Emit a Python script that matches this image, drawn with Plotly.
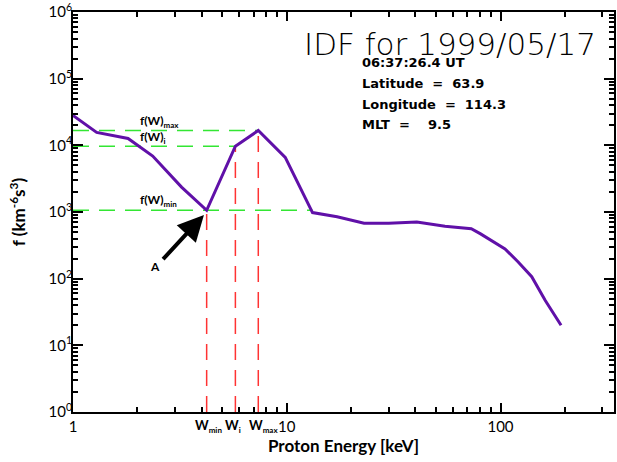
import math
import plotly.graph_objects as go

energy = [1.0, 1.29, 1.81, 2.36, 3.22, 4.22, 5.75, 7.36, 9.84, 13.2, 17.2, 23.0, 30.0, 40.6, 55.0, 73.0, 80.7, 105.0, 121.0, 140.0, 162.0, 192.0]
flux = [28000, 15600, 12700, 6900, 2360, 1060, 9700, 16700, 6600, 980, 850, 680, 680, 710, 610, 560, 470, 280, 178, 107, 47, 20]

w_names = ["W<sub><span style='font-size:8px'>min</span></sub>",
           "W<sub><span style='font-size:8px'>i</span></sub>",
           "W<sub><span style='font-size:8px'>max</span></sub>"]
w_energy = [4.22, 5.75, 7.36]
w_flux = [1060, 9700, 16700]
w_end = [13.2, 5.75, 7.36]
f_labels = ["f(W)<sub><span style='font-size:8px'>min</span></sub>",
            "f(W)<sub><span style='font-size:8px'>i</span></sub>",
            "f(W)<sub><span style='font-size:8px'>max</span></sub>"]

y_ticks = [1, 10, 100, 1000, 10000, 100000, 1000000]
y_ticktext = ["10<sup>%d</sup>" % i for i in range(7)]

info_lines = ["06:37:26.4 UT", "Latitude  =  63.9", "Longitude  =  114.3", "MLT  =    9.5"]

FONT = "Lato"
INFO_FONT = "DejaVu Sans"

fig = go.Figure()

for fe, we in zip(w_flux, w_end):
    fig.add_trace(go.Scatter(x=[1, we], y=[fe, fe], mode="lines",
                             line=dict(color="#33e633", width=1.5, dash="16px,10px"),
                             showlegend=False, hoverinfo="skip"))
for we, fe in zip(w_energy, w_flux):
    fig.add_trace(go.Scatter(x=[we, we], y=[1, fe], mode="lines",
                             line=dict(color="#ff3333", width=1.5, dash="16px,10px"),
                             showlegend=False, hoverinfo="skip"))

fig.add_trace(go.Scatter(x=energy, y=flux, mode="lines",
                         line=dict(color="#6010a8", width=3),
                         showlegend=False))
# invisible trace hosting the y tick-label overlay axis
fig.add_trace(go.Scatter(x=[1], y=[1], xaxis="x", yaxis="y2", mode="markers",
                         marker=dict(opacity=0), showlegend=False, hoverinfo="skip"))

annotations = []
f_label_y = [1500, 13000, 22500]
for t, yy in zip(f_labels, f_label_y):
    annotations.append(dict(x=math.log10(2.02), y=math.log10(yy), xref="x", yref="y", text=t,
                            showarrow=False, xanchor="left", yanchor="middle",
                            font=dict(family=FONT, size=12, color="black", weight="bold")))
w_shift = [2, -2, 5]
for t, we, sh in zip(w_names, w_energy, w_shift):
    annotations.append(dict(x=math.log10(we), y=0, xref="x", yref="paper",
                            text=t, showarrow=False, xanchor="center", yanchor="top", yshift=-3, xshift=sh,
                            font=dict(family=FONT, size=13, color="black", weight="bold")))
annotations.append(dict(x=math.log10(w_energy[0]), y=3.0, xref="x", yref="y",
                        ax=math.log10(2.6), ay=2.27, axref="x", ayref="y",
                        showarrow=True, arrowhead=2, arrowsize=1.3, arrowwidth=4,
                        arrowcolor="black", text="", standoff=4))
annotations.append(dict(x=math.log10(2.42), y=2.19, xref="x", yref="y", text="<b>A</b>",
                        showarrow=False, font=dict(family=FONT, size=12, color="black")))
annotations.append(dict(x=0.97, y=0.97, xref="paper", yref="paper", text="IDF for 1999/05/17",
                        showarrow=False, xanchor="right", yanchor="top",
                        font=dict(family="DejaVu Sans", size=31, color="black", weight=300)))
for i, t in enumerate(info_lines):
    annotations.append(dict(x=0.53, y=0.875 - i * 0.0525, xref="paper", yref="paper", text=t,
                            showarrow=False, xanchor="left", yanchor="middle",
                            font=dict(family=INFO_FONT, size=13, color="black", weight="bold")))

X_RANGE = [0, 2.531]
Y_RANGE = [0, 6]

fig.update_layout(
    width=617, height=462,
    margin=dict(l=73, r=1, t=10, b=50),
    paper_bgcolor="white", plot_bgcolor="white",
    annotations=annotations,
    font=dict(family=FONT, size=15, color="black"),
    xaxis=dict(type="log", range=X_RANGE, dtick=1,
               showline=True, linecolor="black", linewidth=2, mirror="ticks",
               ticks="inside", ticklen=9, tickwidth=2, tickcolor="black",
               tickfont=dict(family=FONT, size=15),
               minor=dict(ticks="inside", ticklen=5, tickwidth=2, tickcolor="black",
                          dtick="D1"),
               title=dict(text="<b>Proton Energy [keV]</b>", font=dict(family=FONT, size=17), standoff=6)),
    yaxis=dict(type="log", range=Y_RANGE, dtick=1,
               showline=True, linecolor="black", linewidth=2, mirror="ticks",
               ticks="inside", ticklen=10, tickwidth=2, tickcolor="black",
               showticklabels=False,
               minor=dict(ticks="inside", ticklen=5, tickwidth=2, tickcolor="black",
                          dtick="D1")),
    yaxis2=dict(type="log", range=Y_RANGE, overlaying="y", anchor="x", side="left",
                showgrid=False, zeroline=False, showline=False, ticks="",
                tickvals=y_ticks, ticktext=y_ticktext,
                tickfont=dict(family=FONT, size=15), ticklabeloverflow="allow",
                title=dict(text="<b>f (km<sup>-6</sup>s<sup>3</sup>)</b>", font=dict(family=FONT, size=17), standoff=18)),
)

fig.write_html("out.html")
